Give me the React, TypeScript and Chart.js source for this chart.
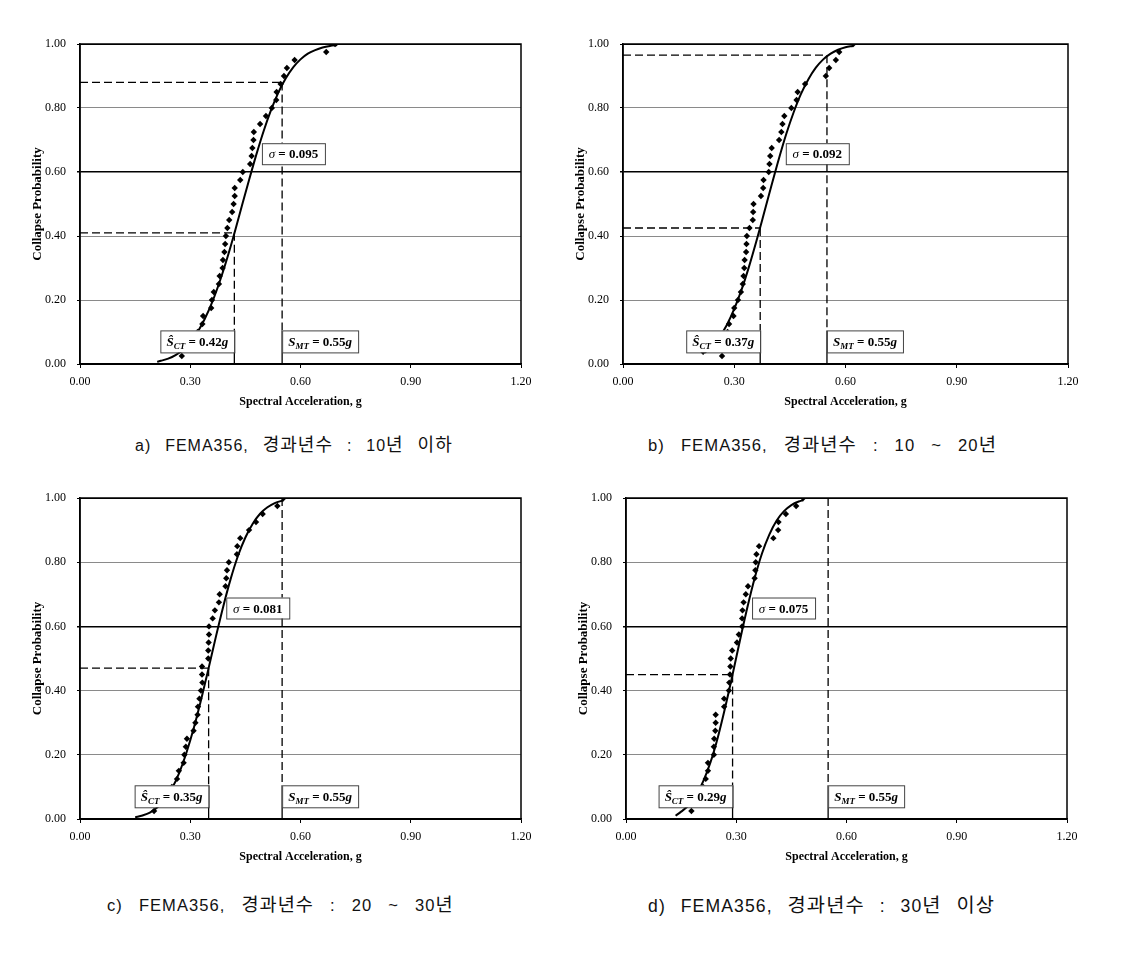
import React, { useEffect, useRef } from "react";
import { Chart, registerables } from "chart.js";
Chart.register(...registerables);

// ---------- axis ticks ----------
const X_TICKS = [0, 0.3, 0.6, 0.9, 1.2];
const Y_TICKS = [0, 0.2, 0.4, 0.6, 0.8, 1.0];

// ---------- chart a) 10년 이하 ----------
const A_CURVE_X = [0.21, 0.22, 0.24, 0.26, 0.28, 0.30, 0.32, 0.34, 0.36, 0.38, 0.40, 0.42, 0.44, 0.46, 0.48, 0.50, 0.52, 0.54, 0.56, 0.58, 0.60, 0.62, 0.64, 0.66, 0.68, 0.70];
const A_CURVE_P = [0.007, 0.010, 0.017, 0.028, 0.044, 0.068, 0.100, 0.142, 0.194, 0.257, 0.329, 0.408, 0.492, 0.575, 0.655, 0.729, 0.794, 0.849, 0.893, 0.927, 0.952, 0.970, 0.981, 0.989, 0.994, 0.997];
const A_POINTS_X = [0.277, 0.300, 0.310, 0.320, 0.333, 0.335, 0.357, 0.359, 0.364, 0.378, 0.380, 0.388, 0.389, 0.393, 0.395, 0.397, 0.401, 0.406, 0.414, 0.418, 0.421, 0.421, 0.436, 0.443, 0.463, 0.467, 0.469, 0.472, 0.473, 0.490, 0.506, 0.522, 0.534, 0.535, 0.546, 0.555, 0.563, 0.584, 0.670, 0.694];
const A_POINTS_P = [0.025, 0.05, 0.075, 0.1, 0.125, 0.15, 0.175, 0.2, 0.225, 0.25, 0.275, 0.3, 0.325, 0.35, 0.375, 0.4, 0.425, 0.45, 0.475, 0.5, 0.525, 0.55, 0.575, 0.6, 0.625, 0.65, 0.675, 0.7, 0.725, 0.75, 0.775, 0.8, 0.825, 0.85, 0.875, 0.9, 0.925, 0.95, 0.975, 1.0];

// ---------- chart b) 10 ~ 20년 ----------
const B_CURVE_X = [0.22, 0.24, 0.26, 0.28, 0.30, 0.32, 0.34, 0.36, 0.38, 0.40, 0.42, 0.44, 0.46, 0.48, 0.50, 0.52, 0.54, 0.56, 0.58, 0.60, 0.62];
const B_CURVE_P = [0.035, 0.055, 0.084, 0.122, 0.172, 0.233, 0.305, 0.385, 0.470, 0.556, 0.640, 0.718, 0.786, 0.844, 0.890, 0.926, 0.952, 0.970, 0.982, 0.990, 0.994];
const B_POINTS_X = [0.216, 0.267, 0.272, 0.277, 0.282, 0.286, 0.298, 0.300, 0.310, 0.318, 0.323, 0.325, 0.327, 0.328, 0.332, 0.333, 0.334, 0.341, 0.350, 0.351, 0.352, 0.372, 0.378, 0.379, 0.393, 0.395, 0.397, 0.401, 0.421, 0.427, 0.430, 0.435, 0.454, 0.468, 0.471, 0.491, 0.547, 0.556, 0.574, 0.583, 0.621];
const B_POINTS_P = [0.038, 0.025, 0.05, 0.075, 0.1, 0.125, 0.15, 0.175, 0.2, 0.225, 0.25, 0.275, 0.3, 0.325, 0.35, 0.375, 0.4, 0.425, 0.45, 0.475, 0.5, 0.525, 0.55, 0.575, 0.6, 0.625, 0.65, 0.675, 0.7, 0.725, 0.75, 0.775, 0.8, 0.825, 0.85, 0.875, 0.9, 0.925, 0.95, 0.975, 1.0];

// ---------- chart c) 20 ~ 30년 ----------
const C_CURVE_X = [0.15, 0.17, 0.19, 0.21, 0.23, 0.25, 0.27, 0.29, 0.31, 0.33, 0.35, 0.37, 0.39, 0.41, 0.43, 0.45, 0.47, 0.49, 0.51, 0.53, 0.554];
const C_CURVE_P = [0.005, 0.011, 0.020, 0.036, 0.060, 0.095, 0.144, 0.208, 0.285, 0.374, 0.470, 0.569, 0.663, 0.748, 0.820, 0.877, 0.920, 0.951, 0.971, 0.984, 0.993];
const C_POINTS_X = [0.2015, 0.230, 0.240, 0.250, 0.264, 0.269, 0.282, 0.284, 0.288, 0.291, 0.309, 0.314, 0.320, 0.321, 0.325, 0.329, 0.333, 0.332, 0.332, 0.349, 0.349, 0.350, 0.351, 0.351, 0.361, 0.367, 0.378, 0.380, 0.396, 0.398, 0.400, 0.405, 0.427, 0.428, 0.436, 0.460, 0.479, 0.497, 0.537, 0.554];
const C_POINTS_P = [0.025, 0.05, 0.075, 0.1, 0.125, 0.15, 0.175, 0.2, 0.225, 0.25, 0.275, 0.3, 0.325, 0.35, 0.375, 0.4, 0.425, 0.45, 0.475, 0.5, 0.525, 0.55, 0.575, 0.6, 0.625, 0.65, 0.675, 0.7, 0.725, 0.75, 0.775, 0.8, 0.825, 0.85, 0.875, 0.9, 0.925, 0.95, 0.975, 1.0];

// ---------- chart d) 30년 이상 ----------
const D_CURVE_X = [0.135, 0.15, 0.17, 0.19, 0.21, 0.23, 0.25, 0.27, 0.29, 0.31, 0.33, 0.35, 0.37, 0.39, 0.41, 0.43, 0.45, 0.47, 0.482];
const D_CURVE_P = [0.010, 0.023, 0.042, 0.072, 0.117, 0.177, 0.255, 0.348, 0.450, 0.556, 0.658, 0.750, 0.827, 0.886, 0.930, 0.959, 0.978, 0.989, 0.993];
const D_POINTS_X = [0.178, 0.190, 0.200, 0.210, 0.217, 0.223, 0.223, 0.239, 0.239, 0.240, 0.243, 0.244, 0.244, 0.267, 0.267, 0.280, 0.281, 0.283, 0.284, 0.285, 0.289, 0.302, 0.307, 0.316, 0.316, 0.317, 0.320, 0.326, 0.332, 0.350, 0.352, 0.353, 0.355, 0.362, 0.401, 0.414, 0.415, 0.435, 0.463, 0.482];
const D_POINTS_P = [0.025, 0.05, 0.075, 0.1, 0.125, 0.15, 0.175, 0.2, 0.225, 0.25, 0.275, 0.3, 0.325, 0.35, 0.375, 0.4, 0.425, 0.45, 0.475, 0.5, 0.525, 0.55, 0.575, 0.6, 0.625, 0.65, 0.675, 0.7, 0.725, 0.75, 0.775, 0.8, 0.825, 0.85, 0.875, 0.9, 0.925, 0.95, 0.975, 1.0];

// ---------- annotation values ----------
const SIGMA_LABELS = ["0.095", "0.092", "0.081", "0.075"];
const SIGMA_BOX_X = [0.495, 0.439, 0.398, 0.343];
const SCT_VALUES = [0.42, 0.37, 0.35, 0.29];
const SCT_LABELS = ["0.42", "0.37", "0.35", "0.29"];
const SCT_PROB = [0.41, 0.425, 0.47, 0.45];
const SMT_VALUE = 0.55;
const SMT_LABEL = "0.55";
const SMT_PROB = [0.88, 0.965, 1.0, 1.0];

const CAPTIONS = [
  "a) FEMA356, 경과년수 : 10년 이하",
  "b) FEMA356, 경과년수 : 10 ~ 20년",
  "c) FEMA356, 경과년수 : 20 ~ 30년",
  "d) FEMA356, 경과년수 : 30년 이상",
];

const SERIES = [
  { cx: A_CURVE_X, cp: A_CURVE_P, px: A_POINTS_X, pp: A_POINTS_P },
  { cx: B_CURVE_X, cp: B_CURVE_P, px: B_POINTS_X, pp: B_POINTS_P },
  { cx: C_CURVE_X, cp: C_CURVE_P, px: C_POINTS_X, pp: C_POINTS_P },
  { cx: D_CURVE_X, cp: D_CURVE_P, px: D_POINTS_X, pp: D_POINTS_P },
];

// ---------- layout (page pixels) ----------
const PLOTS = [
  { L: 80, T: 44, W: 441, H: 320 },
  { L: 623, T: 44, W: 445, H: 320 },
  { L: 80, T: 498, W: 441, H: 321 },
  { L: 626, T: 498, W: 441, H: 321 },
];
const CAPTION_POS = [
  [135, 431],
  [648, 431],
  [107, 891],
  [648, 891],
];
const CAPTION_SCALE = [1.0, 1.04, 1.035, 1.1];
const CAPTION_WS = [8.5, 10.4, 10.4, 8.9];

const SERIF = '"Liberation Serif", "Times New Roman", serif';
const BOX_TOP_P = 0.105;

type Part = { t: string; f: string; dy: number };

function drawRich(ctx: CanvasRenderingContext2D, parts: Part[], cx: number, baseY: number) {
  let total = 0;
  const widths = parts.map((p) => {
    ctx.font = p.f;
    const w = ctx.measureText(p.t).width;
    total += w;
    return w;
  });
  let x = cx - total / 2;
  ctx.textAlign = "left";
  ctx.textBaseline = "alphabetic";
  parts.forEach((p, k) => {
    ctx.font = p.f;
    ctx.fillText(p.t, x, baseY + p.dy);
    x += widths[k];
  });
}

function makeAnnot(i: number) {
  return {
    id: "annot" + i,
    beforeDatasetsDraw(chart: any) {
      const { ctx, scales } = chart;
      const xs = scales.x;
      const ys = scales.y;
      const X = (v: number) => xs.getPixelForValue(v);
      const Y = (v: number) => ys.getPixelForValue(v);
      const boxTop = Y(BOX_TOP_P);
      ctx.save();
      ctx.strokeStyle = "#000";
      ctx.lineWidth = 1.3;
      ctx.setLineDash([8, 4]);
      const seg = (x1: number, y1: number, x2: number, y2: number) => {
        ctx.beginPath();
        ctx.moveTo(x1, y1);
        ctx.lineTo(x2, y2);
        ctx.stroke();
      };
      seg(X(0), Y(SCT_PROB[i]), X(SCT_VALUES[i]), Y(SCT_PROB[i]));
      seg(X(SCT_VALUES[i]), Y(SCT_PROB[i]), X(SCT_VALUES[i]), boxTop);
      if (SMT_PROB[i] < 1) seg(X(0), Y(SMT_PROB[i]), X(SMT_VALUE), Y(SMT_PROB[i]));
      seg(X(SMT_VALUE), Y(SMT_PROB[i]), X(SMT_VALUE), boxTop);
      ctx.restore();
    },
    afterDatasetsDraw(chart: any) {
      const { ctx, scales, chartArea: ca } = chart;
      const xs = scales.x;
      const ys = scales.y;
      const X = (v: number) => xs.getPixelForValue(v);
      const Y = (v: number) => ys.getPixelForValue(v);
      const boxTop = Y(BOX_TOP_P);
      const boxH = 22;
      ctx.save();
      ctx.strokeStyle = "#000";
      ctx.lineWidth = 1.3;
      ctx.setLineDash([]);
      [SCT_VALUES[i], SMT_VALUE].forEach((v) => {
        ctx.beginPath();
        ctx.moveTo(X(v), boxTop);
        ctx.lineTo(X(v), ca.bottom);
        ctx.stroke();
      });
      const big = `bold italic 13px ${SERIF}`;
      const bold = `bold 13px ${SERIF}`;
      const sub = `bold italic 9px ${SERIF}`;
      // S_CT box
      const sctR = X(SCT_VALUES[i]);
      const sctW = 74;
      ctx.fillStyle = "#fff";
      ctx.fillRect(sctR - sctW, boxTop, sctW, boxH);
      ctx.strokeStyle = "#444";
      ctx.lineWidth = 1;
      ctx.strokeRect(sctR - sctW + 0.5, boxTop + 0.5, sctW, boxH);
      ctx.fillStyle = "#000";
      drawRich(ctx, [
        { t: "\u015C", f: big, dy: 0 },
        { t: "CT", f: sub, dy: 3 },
        { t: " = " + SCT_LABELS[i], f: bold, dy: 0 },
        { t: "g", f: big, dy: 0 },
      ], sctR - sctW / 2, boxTop + boxH / 2 + 5);
      // S_MT box
      const smtL = X(SMT_VALUE);
      const smtW = 76;
      ctx.fillStyle = "#fff";
      ctx.fillRect(smtL, boxTop, smtW, boxH);
      ctx.strokeStyle = "#444";
      ctx.strokeRect(smtL + 0.5, boxTop + 0.5, smtW, boxH);
      ctx.fillStyle = "#000";
      drawRich(ctx, [
        { t: "S", f: big, dy: 0 },
        { t: "MT", f: sub, dy: 3 },
        { t: " = " + SMT_LABEL, f: bold, dy: 0 },
        { t: "g", f: big, dy: 0 },
      ], smtL + smtW / 2, boxTop + boxH / 2 + 5);
      // sigma box
      const sgL = X(SIGMA_BOX_X[i]);
      const sgT = Y(0.69);
      const sgW = 63;
      const sgH = 21;
      ctx.fillStyle = "#fff";
      ctx.fillRect(sgL, sgT, sgW, sgH);
      ctx.strokeStyle = "#444";
      ctx.strokeRect(sgL + 0.5, sgT + 0.5, sgW, sgH);
      ctx.fillStyle = "#000";
      drawRich(ctx, [
        { t: "\u03C3", f: `italic 13px ${SERIF}`, dy: 0 },
        { t: " = " + SIGMA_LABELS[i], f: bold, dy: 0 },
      ], sgL + sgW / 2, sgT + sgH / 2 + 4.5);
      // plot frame
      ctx.strokeStyle = "#000";
      ctx.lineWidth = 1.5;
      ctx.strokeRect(ca.left, ca.top, ca.right - ca.left, ca.bottom - ca.top);
      ctx.restore();
    },
  };
}

const near = (a: number, b: number) => Math.abs(a - b) < 1e-6;

function Panel({ i }: { i: number }) {
  const ref = useRef<HTMLCanvasElement | null>(null);
  const p = PLOTS[i];
  const cw = p.W + 85;
  const ch = p.H + 66;
  useEffect(() => {
    if (!ref.current) return;
    const s = SERIES[i];
    const chart = new Chart(ref.current, {
      type: "scatter",
      data: {
        datasets: [
          {
            label: "Data",
            data: s.px.map((x, k) => ({ x, y: s.pp[k] })),
            pointStyle: "rectRot",
            pointRadius: 3.2,
            backgroundColor: "#000",
            borderColor: "#000",
            borderWidth: 0,
            showLine: false,
          },
          {
            label: "Fit",
            data: s.cx.map((x, k) => ({ x, y: s.cp[k] })),
            showLine: true,
            pointRadius: 0,
            borderColor: "#000",
            borderWidth: 2,
            cubicInterpolationMode: "monotone",
            fill: false,
          },
        ],
      },
      options: {
        responsive: false,
        animation: false,
        devicePixelRatio: 1,
        layout: { padding: { left: 0, top: 10, right: 30, bottom: 0 } },
        plugins: { legend: { display: false }, tooltip: { enabled: false }, title: { display: false } },
        scales: {
          x: {
            type: "linear",
            min: 0,
            max: 1.2,
            afterBuildTicks: (sc: any) => {
              sc.ticks = X_TICKS.map((v) => ({ value: v }));
            },
            afterFit: (sc: any) => {
              sc.height = 56;
            },
            ticks: {
              callback: (v: any) => Number(v).toFixed(2),
              color: "#000",
              font: { family: SERIF, size: 12 },
              padding: 7,
              maxRotation: 0,
              autoSkip: false,
            },
            grid: { drawOnChartArea: false, drawTicks: true, tickLength: 4, tickColor: "#000", color: "#000" },
            border: { display: true, color: "#000", width: 1.5 },
            title: {
              display: true,
              text: "Spectral Acceleration, g",
              color: "#000",
              font: { family: SERIF, size: 12, weight: "bold" },
              padding: { top: 0, bottom: 10.6 },
            },
          },
          y: {
            type: "linear",
            min: 0,
            max: 1,
            afterBuildTicks: (sc: any) => {
              sc.ticks = Y_TICKS.map((v) => ({ value: v }));
            },
            afterFit: (sc: any) => {
              sc.width = 55;
              sc.paddingTop = 0;
              sc.paddingBottom = 0;
            },
            ticks: {
              callback: (v: any) => Number(v).toFixed(2),
              color: "#000",
              font: { family: SERIF, size: 12 },
              padding: 11,
              autoSkip: false,
            },
            grid: {
              drawTicks: true,
              tickLength: 3,
              tickColor: "#000",
              color: (c: any) => {
                const v = c.tick ? c.tick.value : 0;
                return near(v, 0.6) || near(v, 0) || near(v, 1) ? "#000" : "#8a8a8a";
              },
              lineWidth: (c: any) => {
                const v = c.tick ? c.tick.value : 0;
                return near(v, 0.6) ? 1.5 : 1;
              },
            },
            border: { display: true, color: "#000", width: 1.5 },
            title: {
              display: true,
              text: "Collapse Probability",
              color: "#000",
              font: { family: SERIF, size: 13, weight: "bold" },
              padding: { top: 5, bottom: 0 },
            },
          },
        },
      },
      plugins: [makeAnnot(i)],
    } as any);
    return () => chart.destroy();
  }, [i]);
  return (
    <canvas
      ref={ref}
      width={cw}
      height={ch}
      style={{ position: "absolute", left: p.L - 55, top: p.T - 10, width: cw, height: ch }}
    />
  );
}

function Caption({ text, left, top, scale, ws }: { text: string; left: number; top: number; scale: number; ws: number }) {
  const runs = text.split(/([\uAC00-\uD7A3]+)/).filter((r) => r.length > 0);
  return (
    <div
      style={{
        position: "absolute",
        left,
        top,
        fontFamily: '"Liberation Sans", Arial, sans-serif',
        fontSize: 16 * scale,
        lineHeight: `${24 * scale}px`,
        letterSpacing: 1 * scale,
        wordSpacing: ws,
        whiteSpace: "pre",
        color: "#111",
      }}
    >
      {runs.map((r, k) =>
        /[\uAC00-\uD7A3]/.test(r) ? (
          <span key={k} style={{ fontFamily: '"Noto Sans CJK KR", sans-serif', fontSize: 18 * scale }}>
            {r}
          </span>
        ) : (
          <span key={k}>{r}</span>
        )
      )}
    </div>
  );
}

export default function App() {
  return (
    <div style={{ position: "absolute", left: 0, top: 0, width: 1123, height: 979, background: "#fff", overflow: "hidden" }}>
      {PLOTS.map((_, i) => (
        <Panel key={i} i={i} />
      ))}
      {CAPTIONS.map((c, i) => (
        <Caption
          key={"cap" + i}
          text={c}
          left={CAPTION_POS[i][0]}
          top={CAPTION_POS[i][1]}
          scale={CAPTION_SCALE[i]}
          ws={CAPTION_WS[i]}
        />
      ))}
    </div>
  );
}
